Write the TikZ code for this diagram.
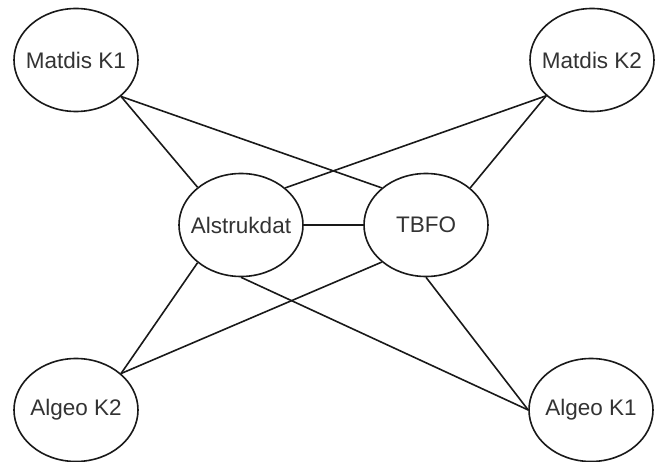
\documentclass[tikz,border=0pt]{standalone}
\usepackage{fontspec}
\setmainfont{Liberation Sans}
\usetikzlibrary{shapes.geometric}
\begin{document}
\begin{tikzpicture}[x=1pt,y=-1pt,
  course/.style={ellipse,draw=black!90,line width=1.6pt,fill=white,minimum width=124pt,minimum height=103pt,inner xsep=-20pt,inner ysep=-10pt,font=\fontsize{22.5}{25}\selectfont,text=black!80},
  link/.style={draw=black!90,line width=1.6pt}]
\useasboundingbox (0,0) rectangle (664,462);
\node[course] (mk1) at (76,60) {Matdis K1};
\node[course] (mk2) at (592,60) {Matdis K2};
\node[course] (als) at (241,225) {Alstrukdat};
\node[course] (tbfo) at (426,225) {TBFO};
\node[course] (ak2) at (76,410) {Algeo K2};
\node[course] (ak1) at (591,410) {Algeo K1};
\draw[link] (mk1.-39) -- (als.139);
\draw[link] (mk1.-39) -- (tbfo.140);
\draw[link] (mk2.218) -- (als.40);
\draw[link] (mk2.218) -- (tbfo.40);
\draw[link] (als.east) -- (tbfo.west);
\draw[link] (als.221) -- (ak2.39);
\draw[link] (tbfo.220) -- (ak2.39);
\draw[link] (als.south) -- (ak1.west);
\draw[link] (tbfo.south) -- (ak1.west);
\end{tikzpicture}
\end{document}
